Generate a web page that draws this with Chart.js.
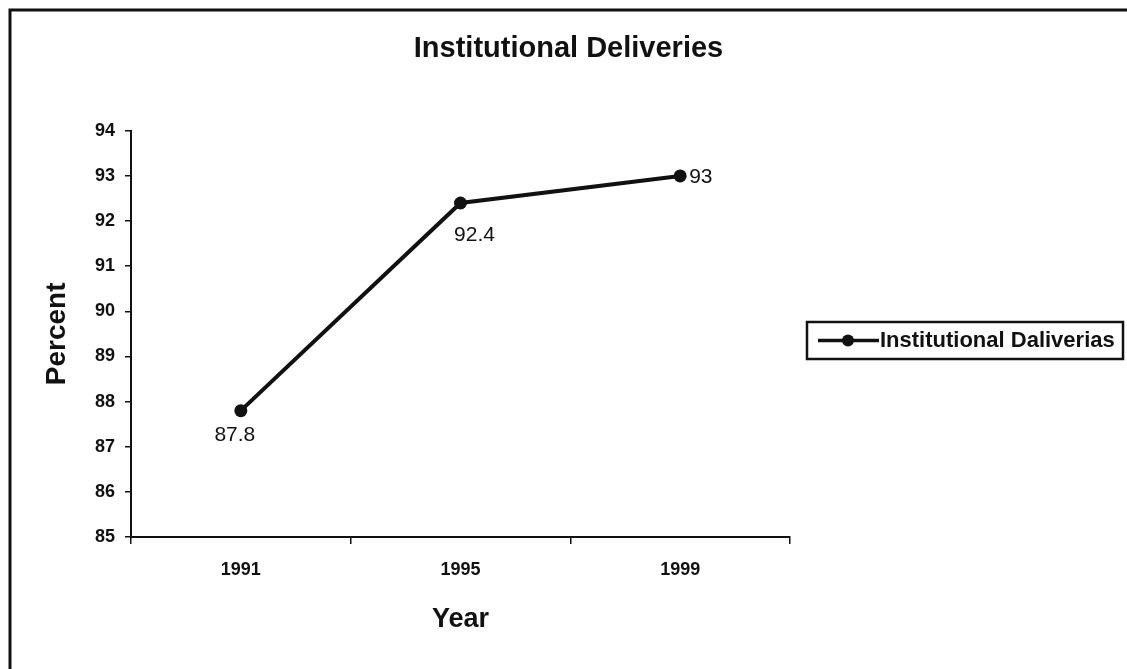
<!DOCTYPE html>
<html><head><meta charset="utf-8">
<script src="https://cdn.jsdelivr.net/npm/chart.js@4/dist/chart.umd.min.js"></script>
<style>html,body{margin:0;padding:0;background:#fff}#wrap{width:1127px;height:669px;position:relative}</style>
</head><body><div id="wrap"><canvas id="c" width="1127" height="669"></canvas></div>
<script>
const chartTitle = 'Institutional Deliveries';
const seriesName = 'Institutional Daliverias';
const years = ['1991', '1995', '1999'];
const percentValues = [87.8, 92.4, 93];
const yMin = 85;
const yMax = 94;
const yStep = 1;
const yAxisTitle = 'Percent';
const xAxisTitle = 'Year';

const FAMILY = '"Liberation Sans", Arial, Helvetica, sans-serif';
const INK = '#111';

// label placement per point (style only)
const labelPlacement = [
  {dx: -6, dy: 25, align: 'center'},
  {dx: 14, dy: 32, align: 'center'},
  {dx: 9, dy: 1, align: 'left'}
];

const framePlugin = {
  id: 'frame',
  beforeDraw(chart) {
    const ctx = chart.ctx;
    ctx.save();
    ctx.fillStyle = '#fff';
    ctx.fillRect(0, 0, chart.width, chart.height);
    ctx.strokeStyle = INK;
    ctx.lineWidth = 3;
    ctx.beginPath();
    ctx.moveTo(10, chart.height + 5);
    ctx.lineTo(10, 10);
    ctx.lineTo(chart.width + 5, 10);
    ctx.stroke();
    ctx.restore();
  }
};

const valueLabelPlugin = {
  id: 'valueLabels',
  afterDatasetsDraw(chart) {
    const ctx = chart.ctx;
    const meta = chart.getDatasetMeta(0);
    const data = chart.data.datasets[0].data;
    ctx.save();
    ctx.fillStyle = INK;
    ctx.font = '21px ' + FAMILY;
    ctx.textBaseline = 'middle';
    meta.data.forEach((pt, i) => {
      const p = labelPlacement[i];
      ctx.textAlign = p.align;
      ctx.fillText(String(data[i]), pt.x + p.dx, pt.y + p.dy);
    });
    ctx.restore();
  }
};

const legendPlugin = {
  id: 'boxLegend',
  afterDraw(chart) {
    const ctx = chart.ctx;
    const ds = chart.data.datasets[0];
    const area = chart.chartArea;
    const left = area.right + 17;
    const top = 322;
    const w = 316, h = 37;
    ctx.save();
    ctx.strokeStyle = INK;
    ctx.lineWidth = 2.5;
    ctx.strokeRect(left, top, w, h);
    const cy = top + h / 2;
    ctx.lineWidth = 3.5;
    ctx.beginPath();
    ctx.moveTo(left + 11, cy);
    ctx.lineTo(left + 72, cy);
    ctx.stroke();
    ctx.fillStyle = INK;
    ctx.beginPath();
    ctx.arc(left + 41, cy, 6, 0, Math.PI * 2);
    ctx.fill();
    ctx.font = 'bold 22px ' + FAMILY;
    ctx.textAlign = 'left';
    ctx.textBaseline = 'middle';
    ctx.fillText(ds.label, left + 73, cy);
    ctx.restore();
  }
};

new Chart(document.getElementById('c'), {
  type: 'line',
  data: {
    labels: years,
    datasets: [{
      label: seriesName,
      data: percentValues,
      borderColor: INK,
      borderWidth: 4,
      pointRadius: 6.5,
      pointBackgroundColor: INK,
      pointBorderColor: INK,
      pointBorderWidth: 0,
      tension: 0,
      fill: false
    }]
  },
  options: {
    responsive: false,
    animation: false,
    devicePixelRatio: 1,
    layout: {padding: {left: 10, right: 0, top: 0, bottom: 0}},
    plugins: {
      legend: {display: false},
      tooltip: {enabled: false},
      title: {
        display: true,
        text: chartTitle,
        color: INK,
        font: {family: FAMILY, size: 29, weight: 'bold'},
        padding: {top: 32, bottom: 64}
      }
    },
    scales: {
      x: {
        type: 'category',
        offset: true,
        grid: {offset: true, drawOnChartArea: false, drawTicks: true, tickLength: 7, color: INK, lineWidth: 1.5},
        border: {display: true, color: INK, width: 2},
        ticks: {color: INK, font: {family: FAMILY, size: 18, weight: 'bold'}, padding: 15},
        title: {display: true, text: xAxisTitle, color: INK, font: {family: FAMILY, size: 27, weight: 'bold'}, padding: {top: 0, bottom: 33}},
        afterFit(s) { s.height = 132; }
      },
      y: {
        min: yMin,
        max: yMax,
        grid: {drawOnChartArea: false, drawTicks: true, tickLength: 6, color: INK, lineWidth: 1.5},
        border: {display: true, color: INK, width: 2},
        ticks: {stepSize: yStep, color: INK, font: {family: FAMILY, size: 18, weight: 'bold'}, padding: 10},
        title: {display: true, text: yAxisTitle, color: INK, font: {family: FAMILY, size: 28, weight: 'bold'}, padding: {top: 30, bottom: 0}},
        afterFit(s) { s.width = 121; }
      },
      legendSpace: {
        type: 'linear',
        position: 'right',
        display: true,
        grid: {display: false, drawTicks: false},
        border: {display: false},
        ticks: {display: false},
        afterFit(s) { s.width = 337; }
      }
    }
  },
  plugins: [framePlugin, valueLabelPlugin, legendPlugin]
});
</script>
</body></html>
